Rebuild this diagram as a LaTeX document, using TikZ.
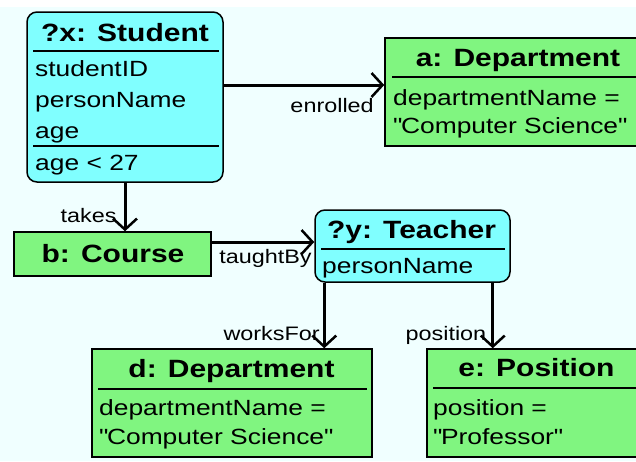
\documentclass[tikz,border=0pt]{standalone}
\usepackage{fontspec}
\setmainfont{Liberation Sans}[FakeStretch=1.2]
\usetikzlibrary{arrows.meta}
\definecolor{varfill}{RGB}{128,255,255}
\definecolor{constfill}{RGB}{128,245,128}
\definecolor{canvas}{RGB}{240,255,255}
\newcommand{\qt}[1]{\textquotedbl#1\textquotedbl}

\begin{document}
\begin{tikzpicture}[x=1pt, y=-1pt,
    every node/.style={inner sep=0pt},
    varbox/.style={draw, line width=1.5pt, fill=varfill, rounded corners=10pt},
    constbox/.style={draw, line width=1.5pt, fill=constfill},
    title/.style={anchor=base, font=\bfseries\fontsize{25}{30}\selectfont},
    attr/.style={anchor=base west, font=\fontsize{22}{26}\selectfont},
    lbl/.style={font=\fontsize{19.5}{22}\selectfont},
    rule/.style={line width=1.2pt},
    link/.style={line width=3pt, -{Straight Barb[length=11pt, width=24pt, line width=2.5pt]}},
  ]
  \useasboundingbox (0,0) rectangle (636,461);
  \fill[canvas] (0,7) rectangle (636,461);

  % variables
  \node[varbox, minimum width=196, minimum height=170] (stu) at (125,97) {};
  \node[title] at (125,41) {?x: Student};
  \draw[rule] (33,51) -- (219,51);
  \node[attr] at (35,76) {studentID};
  \node[attr] at (35,107) {personName};
  \node[attr] at (35,138) {age};
  \draw[rule] (33,146) -- (219,146);
  \node[attr] at (35,170) {age < 27};

  \node[varbox, minimum width=195, minimum height=72] (tch) at (412.5,246) {};
  \node[title] at (411.5,238) {?y: Teacher};
  \draw[rule] (321,249) -- (505,249);
  \node[attr] at (322,273) {personName};

  % constants
  \node[constbox, minimum width=266, minimum height=108] (depA) at (518,92) {};
  \node[title] at (518,66) {a: Department};
  \draw[rule] (392,77) -- (645,77);
  \node[attr] at (393,105) {departmentName =};
  \node[attr] at (393,133) {\qt{Computer Science}};

  \node[constbox, minimum width=197, minimum height=44] (course) at (112.5,254) {};
  \node[title] at (113,262) {b: Course};

  \node[constbox, minimum width=280, minimum height=108] (depD) at (232,403) {};
  \node[title] at (231.5,377) {d: Department};
  \draw[rule] (98,389) -- (367,389);
  \node[attr] at (99,415) {departmentName =};
  \node[attr] at (99,444) {\qt{Computer Science}};

  \node[constbox, minimum width=219, minimum height=108] (posE) at (536.5,403) {};
  \node[title] at (536.5,376) {e: Position};
  \draw[rule] (433,388) -- (640,388);
  \node[attr] at (433,415) {position =};
  \node[attr] at (433,444) {\qt{Professor}};

  % links
  \coordinate (enr) at ([yshift=7pt]depA.west);
  \draw[link] (stu.east |- enr) -- node[lbl, pos=1, anchor=north east, xshift=-9pt, yshift=-12pt] {enrolled} (enr);
  \draw[link] (stu.south) -- node[lbl, pos=1, anchor=base east, xshift=-7pt, yshift=9pt] {takes} (stu.south |- course.north);
  \coordinate (tby) at ([yshift=4pt]tch.west);
  \draw[link] (course.east |- tby) -- node[lbl, pos=0, anchor=base west, xshift=6pt, yshift=-21pt] {taughtBy} (tby);
  \coordinate (wf) at ([xshift=10pt]tch.south west);
  \draw[link] (wf) -- node[lbl, pos=1, anchor=base east, xshift=-3pt, yshift=8pt] {worksFor} (wf |- depD.north);
  \coordinate (ps) at ([xshift=-18pt]tch.south east);
  \draw[link] (ps) -- node[lbl, pos=1, anchor=base east, xshift=-5pt, yshift=8pt] {position} (ps |- posE.north);
\end{tikzpicture}
\end{document}
